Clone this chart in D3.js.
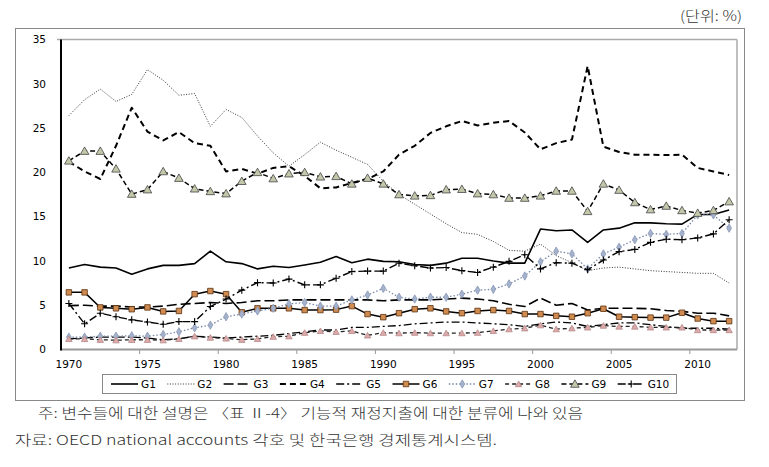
<!DOCTYPE html>
<html><head><meta charset="utf-8">
<script src="https://cdn.jsdelivr.net/npm/d3@7"></script>
<style>body{margin:0;background:#fff} svg{display:block}</style>
</head><body>
<svg id="c" width="769" height="467"></svg>
<script>
const years = [1970,1971,1972,1973,1974,1975,1976,1977,1978,1979,1980,1981,1982,1983,1984,1985,1986,1987,1988,1989,1990,1991,1992,1993,1994,1995,1996,1997,1998,1999,2000,2001,2002,2003,2004,2005,2006,2007,2008,2009,2010,2011,2012];
const G1 = [9.2,9.6,9.3,9.2,8.5,9.1,9.5,9.5,9.7,11.1, 9.9,9.7,9.1,9.4,9.25,9.55,9.85,10.5,9.8,10.2, 9.95,9.9,9.6,9.5,9.75,10.3,10.3,10.0,9.75,9.75, 13.6,13.4,13.5,12.1,13.5,13.7,14.3,14.3,14.2,14.15, 15.25,15.25,15.75];
const G2 = [26.4,28.2,29.4,28.0,28.8,31.6,30.4,28.7,28.9,25.2, 27.1,26.2,24.1,22.2,20.7,22.0,23.4,22.5,21.7,20.9, 19.0,17.5,16.4,15.3,14.2,13.2,13.0,12.2,11.2,11.1, 11.9,10.6,9.8,8.9,9.2,9.3,9.1,8.9,8.8,8.7, 8.6,8.6,7.5];
const G3 = [4.95,5.0,4.9,4.9,4.8,4.8,4.9,5.1,5.2,5.3, 5.2,5.3,5.5,5.5,5.6,5.6,5.6,5.6,5.6,5.6, 5.5,5.6,5.6,5.6,5.7,5.8,5.7,5.5,5.1,4.85, 5.8,5.0,5.2,4.45,4.65,4.65,4.65,4.6,4.4,4.3, 4.1,4.1,3.8];
const G4 = [21.2,20.1,19.25,23.0,27.3,24.6,23.6,24.55,23.3,23.0, 20.1,20.4,19.85,20.5,20.7,19.6,18.2,18.3,18.8,19.25, 20.1,22.0,23.0,24.45,25.2,25.8,25.3,25.6,25.8,24.5, 22.6,23.3,23.7,32.0,22.9,22.3,22.0,22.0,21.95,22.0, 20.5,20.1,19.7];
const G5 = [1.2,1.3,1.4,1.4,1.4,1.3,1.1,1.2,1.5,1.4, 1.3,1.4,1.5,1.6,1.8,2.0,2.2,2.2,2.5,2.5, 2.6,2.7,2.9,3.0,3.1,3.1,3.0,2.9,2.8,2.6, 2.9,3.1,3.0,2.6,2.8,3.0,3.0,2.8,2.6,2.4, 2.4,2.4,2.3];
const G6 = [6.45,6.45,4.75,4.65,4.55,4.75,4.3,4.35,6.25,6.6, 6.25,4.2,4.65,4.65,4.65,4.45,4.45,4.5,4.9,4.0, 3.65,4.1,4.55,4.65,4.3,4.1,4.35,4.45,4.35,4.0, 4.0,3.8,3.7,4.1,4.6,3.7,3.65,3.6,3.6,4.15, 3.5,3.2,3.2];
const G7 = [1.4,1.4,1.5,1.5,1.55,1.5,1.7,2.0,2.45,2.75, 3.7,4.0,4.35,4.65,5.15,5.3,4.9,4.9,5.6,6.15, 6.9,5.9,5.7,5.9,5.9,6.25,6.7,6.8,7.4,8.3, 9.9,11.1,10.8,9.1,10.8,11.55,12.4,13.1,13.0,13.1, 15.2,15.2,13.7];
const G8 = [1.2,1.2,1.1,1.05,1.1,1.1,1.05,1.2,1.5,1.35, 1.25,1.1,1.2,1.45,1.5,1.9,2.1,2.0,2.1,1.6, 1.9,1.85,1.9,1.85,1.85,1.85,1.9,2.1,2.3,2.4, 2.75,2.3,2.4,2.5,2.7,2.6,2.6,2.5,2.5,2.5, 2.2,2.2,2.2];
const G9 = [21.3,22.4,22.4,20.4,17.55,18.05,20.1,19.35,18.15,17.85, 17.6,19.0,20.0,19.3,19.85,20.0,19.5,19.55,18.7,19.35, 18.7,17.5,17.35,17.4,18.05,18.1,17.6,17.5,17.1,17.1, 17.35,17.9,17.9,15.6,18.7,18.0,16.6,15.8,16.2,15.7, 15.4,15.7,16.7];
const G10 = [5.2,2.9,4.1,3.7,3.35,3.1,2.85,3.15,3.15,4.85, 5.7,6.7,7.55,7.5,7.95,7.3,7.3,8.05,8.8,8.85, 8.85,9.75,9.45,9.2,9.25,8.9,8.7,9.3,9.95,10.7, 9.1,9.8,9.75,9.0,10.1,11.05,11.3,12.1,12.45,12.4, 12.6,13.05,14.65];
const seriesNames = ["G1","G2","G3","G4","G5","G6","G7","G8","G9","G10"];
const seriesValues = [G1,G2,G3,G4,G5,G6,G7,G8,G9,G10];
const yTicks = [0,5,10,15,20,25,30,35];
const xTickLabels = [1970,1975,1980,1985,1990,1995,2000,2005,2010];
const unitLabel = "(단위: %)";
const note1 = "주: 변수들에 대한 설명은 〈표 Ⅱ-4〉 기능적 재정지출에 대한 분류에 나와 있음";
const note2 = "자료: OECD national accounts 각호 및 한국은행 경제통계시스템.";

const styles = [
  {stroke:"#000", w:1.6, dash:null},
  {stroke:"#333", w:1, dash:"1,1.6"},
  {stroke:"#000", w:1.6, dash:"10,4"},
  {stroke:"#000", w:2, dash:"6,4"},
  {stroke:"#000", w:1.3, dash:"8,3,2,3"},
  {stroke:"#000", w:1.5, dash:null, m:"square", fill:"#d08c50", ms:"#5a3010", size:30},
  {stroke:"#7888a8", w:1.3, dash:"1.5,2", m:"diamond", fill:"#a4b2cc", ms:"#8a98b8", size:20},
  {stroke:"#222", w:1.3, dash:"4,3", m:"triangle", fill:"#dcaaaa", ms:"#b88888", size:18},
  {stroke:"#000", w:1.5, dash:"5,3", m:"triangle", fill:"#c4c8aa", ms:"#444", size:32},
  {stroke:"#000", w:1.4, dash:"8,3,2,3", m:"plus"}
];

const svg = d3.select("#c");
const x = d3.scaleBand().domain(years).range([61,737]);
const y = d3.scaleLinear().domain([0,35]).range([349.5,39.5]);
const cx = d => x(d) + x.bandwidth()/2;
const FONT = "DejaVu Sans";
const KFONT = "'Noto Sans CJK KR', sans-serif";

// outer frame
svg.append("rect").attr("x",15.5).attr("y",28.5).attr("width",729).attr("height",372)
  .attr("fill","none").attr("stroke","#888").attr("stroke-width",1);

// unit label
svg.append("text").attr("x",680).attr("y",21)
  .attr("font-family",KFONT).attr("font-size",14).attr("font-weight",300).attr("fill","#333")
  .attr("textLength",62).attr("lengthAdjust","spacingAndGlyphs").text(unitLabel);

// plot borders
svg.append("line").attr("x1",57).attr("x2",737).attr("y1",39.5).attr("y2",39.5).attr("stroke","#aaa").attr("stroke-width",1.5);
svg.append("line").attr("x1",737).attr("x2",737).attr("y1",39.5).attr("y2",349.5).attr("stroke","#aaa").attr("stroke-width",1.5);

// x axis
const xAxis = svg.append("g");
xAxis.append("line").attr("x1",61).attr("x2",737).attr("y1",349.5).attr("y2",349.5).attr("stroke","#999").attr("stroke-width",2);
xAxis.selectAll("line.tk").data(years.filter((d,i)=>i%5===0 && i>0)).enter().append("line")
  .attr("class","tk").attr("x1",d=>x(d)).attr("x2",d=>x(d)).attr("y1",350).attr("y2",354)
  .attr("stroke","#999").attr("stroke-width",1);
xAxis.selectAll("text").data(xTickLabels).enter().append("text")
  .attr("x",d=>cx(d)).attr("y",368).attr("text-anchor","middle")
  .attr("font-family",FONT).attr("font-size",10.5).attr("fill","#000").text(d=>d);

// y axis
const yAxis = svg.append("g");
yAxis.selectAll("text").data(yTicks).enter().append("text")
  .attr("x",46).attr("y",d=>y(d)).attr("dy","0.36em").attr("text-anchor","end")
  .attr("font-family",FONT).attr("font-size",10.5).attr("fill","#000").text(d=>d);
yAxis.append("line").attr("x1",61).attr("x2",61).attr("y1",39.5).attr("y2",350.5).attr("stroke","#000").attr("stroke-width",2);

// series
const line = d3.line().x((d,i)=>cx(years[i])).y(d=>y(d));
function drawMarker(g, st, px, py){
  if(!st.m) return;
  if(st.m==="plus"){
    g.append("path").attr("d",`M${px-3.5},${py}H${px+3.5}M${px},${py-3.5}V${py+3.5}`)
      .attr("stroke","#000").attr("stroke-width",1.1);
    return;
  }
  const t = st.m==="square"?d3.symbolSquare:st.m==="diamond"?d3.symbolDiamond:d3.symbolTriangle;
  g.append("path").attr("d",d3.symbol().type(t).size(st.size)())
    .attr("transform",`translate(${px},${py+(st.m==="triangle"?0.8:0)})`)
    .attr("fill",st.fill).attr("stroke",st.ms).attr("stroke-width",0.8);
}
seriesValues.forEach((vals,k)=>{
  const st = styles[k];
  const g = svg.append("g");
  g.append("path").datum(vals).attr("d",line).attr("fill","none")
    .attr("stroke",st.stroke).attr("stroke-width",st.w)
    .attr("stroke-dasharray",st.dash).attr("stroke-linejoin","round");
  vals.forEach((v,i)=>drawMarker(g, st, cx(years[i]), y(v)));
});

// legend
const lg = svg.append("g");
lg.append("rect").attr("x",102.5).attr("y",374.5).attr("width",574).attr("height",19)
  .attr("fill","#fff").attr("stroke","#888");
seriesNames.forEach((n,i)=>{
  const st = styles[i];
  const lx = 111 + i*56.3, ly = 384;
  lg.append("line").attr("x1",lx).attr("x2",lx+27).attr("y1",ly).attr("y2",ly)
    .attr("stroke",st.stroke).attr("stroke-width",st.w).attr("stroke-dasharray",st.dash);
  drawMarker(lg, st, lx+13.5, ly);
  lg.append("text").attr("x",lx+30).attr("y",ly).attr("dy","0.36em")
    .attr("font-family",FONT).attr("font-size",10.5).attr("fill","#000").text(n);
});

// notes
svg.append("text").attr("x",38).attr("y",418).attr("font-family",KFONT).attr("font-size",13.5)
  .attr("font-weight",300).attr("fill","#333").attr("textLength",545).attr("lengthAdjust","spacingAndGlyphs").text(note1);
svg.append("text").attr("x",15).attr("y",445).attr("font-family",KFONT).attr("font-size",13.5)
  .attr("font-weight",300).attr("fill","#333").attr("textLength",482).attr("lengthAdjust","spacingAndGlyphs").text(note2);
</script>
</body></html>
